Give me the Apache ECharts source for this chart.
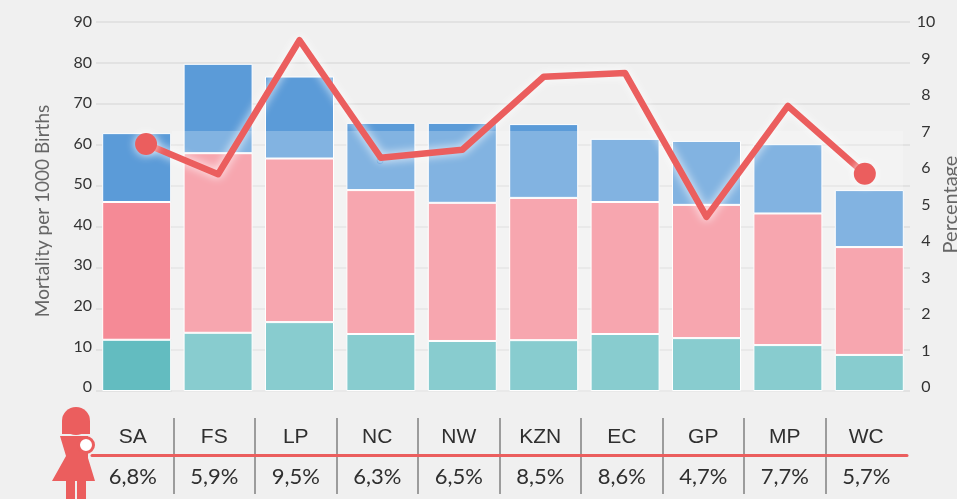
<!DOCTYPE html>
<html><head><meta charset="utf-8">
<style>html,body{margin:0;padding:0;background:#f0f0f0}#c{width:957px;height:499px}</style>
<script src="https://cdn.jsdelivr.net/npm/echarts@6/dist/echarts.min.js"></script>
</head><body><div id="c"></div>
<script>
const categories = ['SA','FS','LP','NC','NW','KZN','EC','GP','MP','WC'];
const tableLabels = ['6,8%','5,9%','9,5%','6,3%','6,5%','8,5%','8,6%','4,7%','7,7%','5,7%'];
const tealValues = [12.5,14.2,16.8,13.9,12.2,12.4,13.9,12.9,11.2,8.8];
const pinkValues = [33.6,43.8,39.9,35.1,33.7,34.7,32.2,32.5,32.1,26.3];
const blueValues = [16.8,21.8,20,16.4,19.5,18,15.4,15.6,16.9,13.9];
const percentValues = [6.66,5.83,9.5,6.28,6.5,8.5,8.6,4.66,7.7,5.84];
const pointShift = [0.115,0,0,0,0,0,0,0,0,-0.055];
const ringPoint = [2.99,6.2];

const chart = echarts.init(document.getElementById('c'), null, {renderer:'canvas'});
const font = 'Lato';
const red = '#eb5e5e';
const seg = (name,data,color)=>({name,type:'bar',stack:'m',data,barWidth:69,z:2,xAxisIndex:0,yAxisIndex:0,
  itemStyle:{color,borderColor:'#fff',borderWidth:1}, emphasis:{disabled:true}});
chart.setOption({
  animation:false,
  backgroundColor:'#f0f0f0',
  grid:[
    {left:96,right:47,top:22,height:369,outerBoundsMode:'none'},
    {left:92,right:50,top:418,height:76,outerBoundsMode:'none'},
    {left:96,right:47,top:22,height:365,outerBoundsMode:'none'}
  ],
  xAxis:[
    {gridIndex:0,type:'category',data:categories,axisLine:{show:false},axisTick:{show:false},axisLabel:{show:false}},
    {gridIndex:2,type:'value',min:-0.5,max:9.5,show:false},
    {gridIndex:1,type:'category',data:tableLabels,position:'bottom',
      axisLine:{onZero:true,lineStyle:{color:red,width:3}},axisTick:{show:false},
      axisLabel:{inside:true,margin:6,fontFamily:font,fontSize:22,color:'#2f2f2f',interval:0},
      splitLine:{show:true,showMinLine:false,showMaxLine:false,interval:0,lineStyle:{color:'#9c9c9c',width:2}}},
    {gridIndex:1,type:'category',data:categories,position:'top',
      axisLine:{onZero:false,show:false},axisTick:{show:false},
      axisLabel:{inside:true,margin:9,fontFamily:'Liberation Sans',fontSize:21,color:'#2f2f2f',interval:0}}
  ],
  yAxis:[
    {gridIndex:0,type:'value',min:0,max:90,interval:10,axisLine:{show:false},axisTick:{show:false},axisLabel:{show:false},
      splitLine:{lineStyle:{color:'#dedede',width:1.5}}},
    {gridIndex:2,type:'value',min:0,max:90,interval:10,position:'left',
      name:'Mortality per 1000 Births',nameLocation:'middle',nameGap:44,
      nameTextStyle:{fontFamily:font,fontSize:19,color:'#666',padding:[0,13,0,0]},
      axisLine:{show:false},axisTick:{show:false},splitLine:{show:false},
      axisLabel:{fontFamily:font,fontSize:16,color:'#333',margin:4}},
    {gridIndex:2,type:'value',min:0,max:10,interval:1,position:'right',
      name:'Percentage',nameLocation:'middle',nameGap:31,nameMoveOverlap:false,
      nameTextStyle:{fontFamily:font,fontSize:20,color:'#666'},
      axisLine:{show:false},axisTick:{show:false},splitLine:{show:false},
      axisLabel:{fontFamily:font,fontSize:16,color:'#333',margin:16,align:'center'}},
    {gridIndex:1,type:'value',min:-1.03,max:0.97,show:false}
  ],
  series:[
    seg('Neonatal',tealValues,'#63bcc0'),
    seg('Perinatal',pinkValues,'#f58a96'),
    seg('Under five',blueValues,'#5b9bd8'),
    {name:'Percentage',type:'line',xAxisIndex:1,yAxisIndex:2,z:10,showAllSymbol:true,
      data:percentValues.map((v,i)=>[i+pointShift[i],v]),
      symbol:'circle',symbolSize:(v,p)=>(p.dataIndex===0||p.dataIndex===9)?22:0,
      lineStyle:{color:red,width:6.5,join:'round',shadowColor:'rgba(255,255,255,0.9)',shadowBlur:10},
      itemStyle:{color:red,shadowColor:'rgba(255,255,255,0.9)',shadowBlur:10}},
    {name:'ring',type:'scatter',xAxisIndex:1,yAxisIndex:2,z:9,data:[ringPoint],symbolSize:6,
      itemStyle:{color:'rgba(0,0,0,0)',borderColor:'#5b9bd8',borderWidth:1}},
    {name:'table',type:'line',xAxisIndex:2,yAxisIndex:3,data:[],silent:true},
    {name:'table2',type:'line',xAxisIndex:3,yAxisIndex:3,data:[],silent:true},
    {name:'labels',type:'line',xAxisIndex:1,yAxisIndex:1,data:[],silent:true}
  ],
  graphic:[
    {type:'rect',z:5,silent:true,shape:{x:172,y:131,width:731,height:261},style:{fill:'rgba(255,255,255,0.24)'}},
    {type:'circle',z:6,silent:true,shape:{cx:76,cy:421,r:14},style:{fill:red}},
    {type:'rect',z:6,silent:true,shape:{x:62,y:421,width:28,height:13},style:{fill:red}},
    {type:'polygon',z:6,silent:true,shape:{points:[[60,436],[88,436],[88,458],[95,481],[86,481],[86,499],[77,499],[77,481],[75,481],[75,499],[66,499],[66,481],[52,481],[66,456]]},style:{fill:red}},
    {type:'circle',z:7,silent:true,shape:{cx:86,cy:445,r:7.5},style:{fill:'#fff',stroke:red,lineWidth:3}}
  ]
});
</script></body></html>
